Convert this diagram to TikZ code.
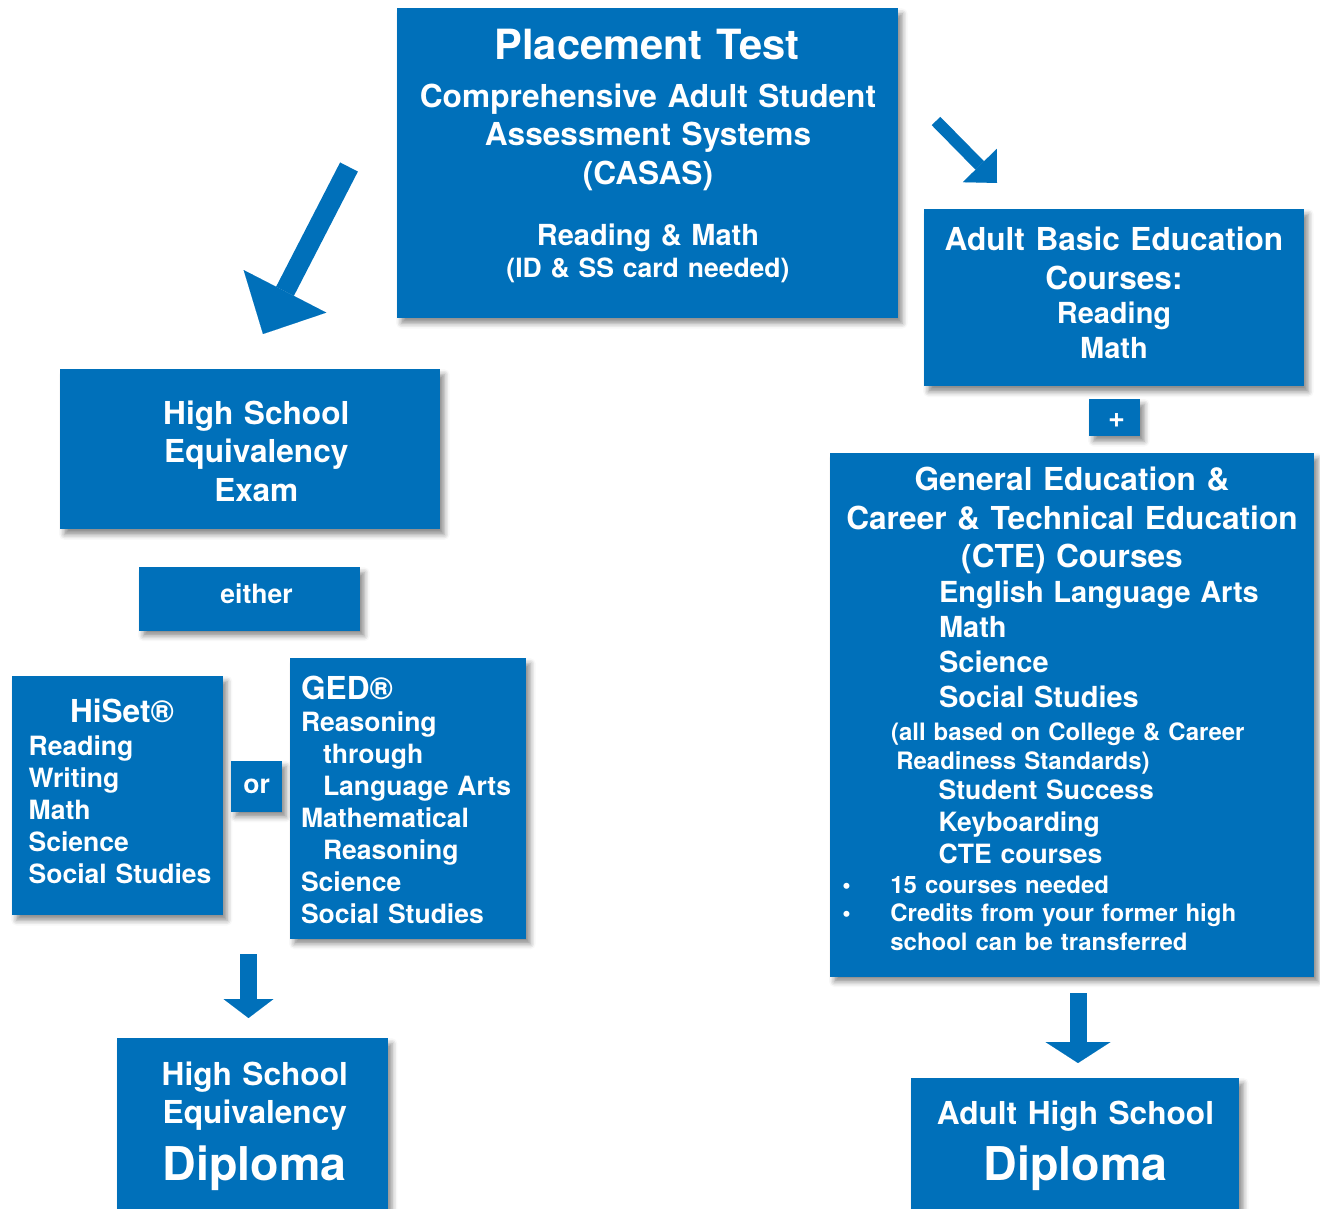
\documentclass[tikz,border=0pt]{standalone}
\usepackage{fontspec}
\setmainfont{TeX Gyre Heros}
\usetikzlibrary{arrows.meta,fit,shadows.blur}
\definecolor{boxblue}{RGB}{0,112,186}
\newcommand{\fTitle}{\fontsize{23.7}{28}\selectfont}
\newcommand{\fHead}{\fontsize{18}{21.9}\selectfont}
\newcommand{\fSub}{\fontsize{16.5}{19.9}\selectfont}
\newcommand{\fList}{\fontsize{15.1}{18.2}\selectfont}
\newcommand{\fNote}{\fontsize{13.65}{16.2}\selectfont}
\newcommand{\fDip}{\fontsize{26.5}{30}\selectfont}
\newcommand{\bul}{\leavevmode\llap{\textbullet\hspace{22.5pt}}}
\tikzset{
  box/.style={fill=boxblue, inner sep=0pt,
    blur shadow={shadow xshift=2.5pt, shadow yshift=-3pt, shadow blur radius=3pt, shadow opacity=45}},
  ctr/.style={text=white, inner sep=0pt, anchor=base, align=center, text width=10cm, font=\bfseries#1},
  lft/.style={text=white, inner sep=0pt, anchor=base west, align=left, text width=9cm, font=\bfseries#1},
  bigarrow/.style n args={3}{draw=boxblue, line width=#1,
    -{Triangle[length=#2, width=#3, line width=0.01pt]}}
}
\begin{document}
\begin{tikzpicture}[x=0.02cm, y=-0.02cm]
  \useasboundingbox (0,0) rectangle (1320,1209);
  % boxes
  \node[box, fit={(397,8.5) (898,318)}] (test) {};
  \node[box, fit={(924,209) (1304,386.5)}] (abe) {};
  \node[box, fit={(1089,399) (1140,436)}] (plus) {};
  \node[box, fit={(830,453) (1314,976.5)}] (gen) {};
  \node[box, fit={(60,369.3) (440,529.3)}] (hse) {};
  \node[box, fit={(139,567.3) (360,630.7)}] (either) {};
  \node[box, fit={(12,676) (222.7,915)}] (hiset) {};
  \node[box, fit={(231,761) (281.7,811.7)}] (or) {};
  \node[box, fit={(290,658.3) (526,938.7)}] (ged) {};
  \node[box, fit={(117.3,1038.3) (387.7,1209)}] (hsd) {};
  \node[box, fit={(911,1078) (1239,1209)}] (ahd) {};
  % texts
  \path
    (647,59.3) node[ctr=\fTitle] (testT) {Placement Test}
    (648,107.3) node[ctr=\fHead] (testA) {Comprehensive Adult Student\\Assessment Systems\\(CASAS)}
    (648,246) node[ctr=\fSub] (testB) {Reading \& Math}
    (648,277.7) node[ctr=\fList] (testC) {(ID \& SS card needed)}
    (1114,250.7) node[ctr=\fHead] (abeA) {Adult Basic Education\\Courses:}
    (1114,324) node[ctr=\fSub] (abeB) {Reading\\Math}
    (1116.7,427.7) node[ctr=\fSub] (plusT) {+}
    (1072,490.7) node[ctr=\fHead] (genA) {General Education \&\\Career \& Technical Education\\(CTE) Courses}
    (938.7,602.7) node[lft=\fSub] (genB) {English Language Arts\\Math\\Science\\Social Studies}
    (890.7,740.7) node[lft=\fNote] (genC) {(all based on College \& Career\\\hspace*{3pt}Readiness Standards)}
    (938.3,800) node[lft=\fList] (genD) {Student Success\\Keyboarding\\CTE courses}
    (890,893.3) node[lft=\fNote] (genE) {\bul 15 courses needed\\\bul Credits from your former high\\school can be transferred}
    (256.3,424.3) node[ctr=\fHead] (hseT) {High School\\Equivalency\\Exam}
    (256.5,603.3) node[ctr=\fList] (eitherT) {either}
    (122,722.7) node[ctr=\fHead] (hisetT) {HiSet®}
    (28.3,756) node[lft=\fList] (hisetL) {Reading\\Writing\\Math\\Science\\Social Studies}
    (256.7,794) node[ctr=\fList] (orT) {or}
    (300.7,700) node[lft=\fHead] (gedT) {GED®}
    (300.7,731.7) node[lft=\fList] (gedL) {Reasoning\\\hspace*{12.5pt}through\\\hspace*{12.5pt}Language Arts\\Mathematical\\\hspace*{12.5pt}Reasoning\\Science\\Social Studies}
    (254.8,1085) node[ctr=\fHead] (hsdA) {High School\\Equivalency}
    (254.8,1180) node[ctr=\fDip] (hsdB) {Diploma}
    (1075.5,1124) node[ctr=\fHead] (ahdA) {Adult High School}
    (1075.5,1180) node[ctr=\fDip] (ahdB) {Diploma};
  % arrows
  \coordinate (a1s) at (349,167);
  \coordinate (a1e) at (263,334);
  \coordinate (a2s) at (936,121);
  \coordinate (a2e) at (997,183);
  \coordinate (a3s) at (248.5,954);
  \coordinate (a3e) at (248.5,1018);
  \coordinate (a4s) at (1078,993);
  \coordinate (a4e) at (1078,1063);
  \draw[bigarrow={0.4cm}{0.96cm}{1.86cm}] (a1s) -- (a1e);
  \draw[bigarrow={0.24cm}{0.49cm}{0.95cm}] (a2s) -- (a2e);
  \draw[bigarrow={0.34cm}{0.38cm}{1.0cm}] (a3s) -- (a3e);
  \draw[bigarrow={0.34cm}{0.42cm}{1.3cm}] (a4s) -- (a4e);
\end{tikzpicture}
\end{document}
